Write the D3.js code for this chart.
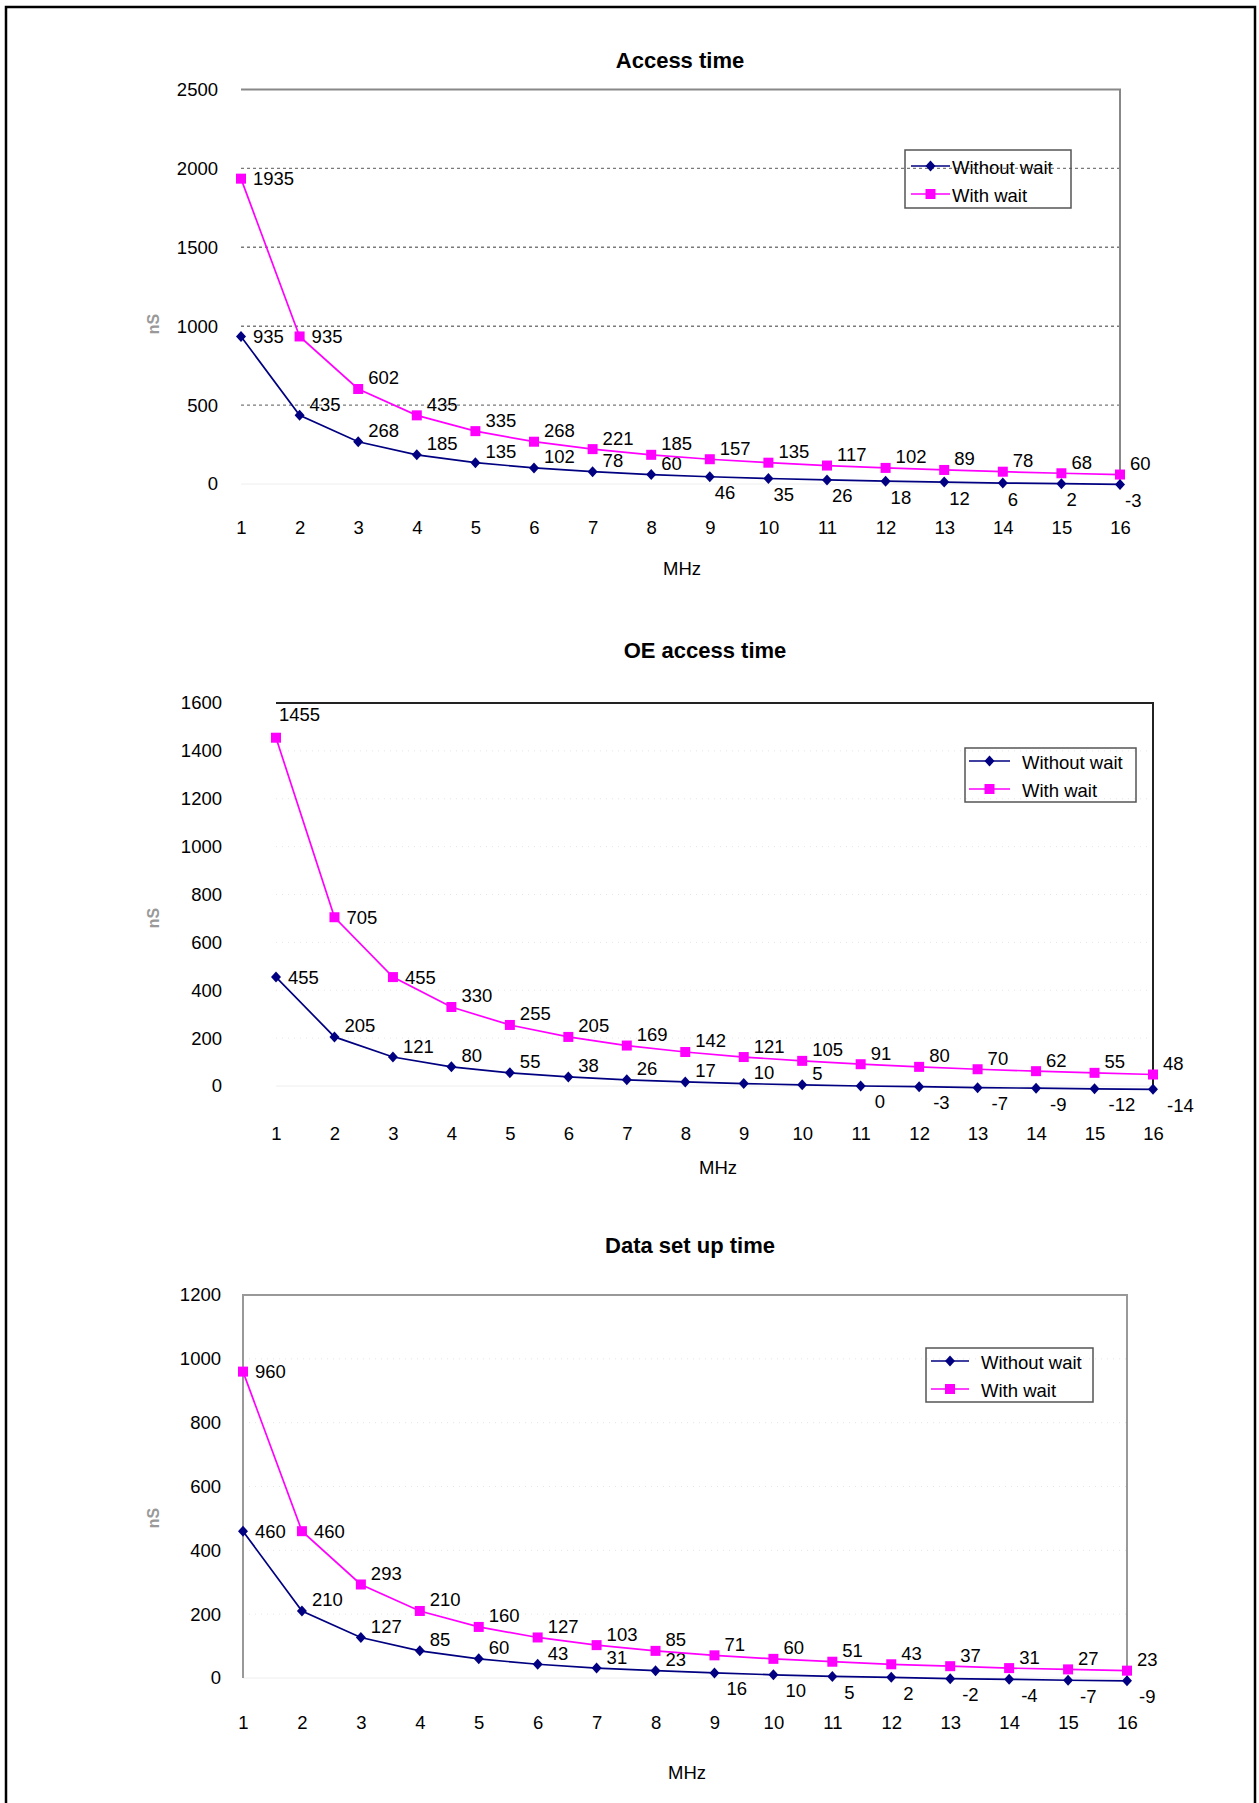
<!DOCTYPE html>
<html>
<head>
<meta charset="utf-8">
<script src="https://cdn.jsdelivr.net/npm/d3@7"></script>
<style>
  body { margin: 0; background: #fff; }
  svg text { font-family: "Liberation Sans", Arial, sans-serif; }
</style>
</head>
<body>
<div id="svganchor"></div>
<script>
/*
------------------------------
DATA
------------------------------
*/
const mhz = [1, 2, 3, 4, 5, 6, 7, 8, 9, 10, 11, 12, 13, 14, 15, 16];
const seriesNames = ["Without wait", "With wait"];

const accessWithout = [935, 435, 268, 185, 135, 102, 78, 60, 46, 35, 26, 18, 12, 6, 2, -3];
const accessWith = [1935, 935, 602, 435, 335, 268, 221, 185, 157, 135, 117, 102, 89, 78, 68, 60];
const accessTicks = [0, 500, 1000, 1500, 2000, 2500];

const oeWithout = [455, 205, 121, 80, 55, 38, 26, 17, 10, 5, 0, -3, -7, -9, -12, -14];
const oeWith = [1455, 705, 455, 330, 255, 205, 169, 142, 121, 105, 91, 80, 70, 62, 55, 48];
const oeTicks = [0, 200, 400, 600, 800, 1000, 1200, 1400, 1600];

const setupWithout = [460, 210, 127, 85, 60, 43, 31, 23, 16, 10, 5, 2, -2, -4, -7, -9];
const setupWith = [960, 460, 293, 210, 160, 127, 103, 85, 71, 60, 51, 43, 37, 31, 27, 23];
const setupTicks = [0, 200, 400, 600, 800, 1000, 1200];

/*
------------------------------
METHOD: size of the canvas and layout of the three charts
------------------------------
*/
const width = 1259;
const height = 1803;
const fontSize = 18.5;
const colors = ["#000080", "#ff00ff"];

const charts = [
  {
    title: "Access time", series: [accessWithout, accessWith], ticks: accessTicks,
    left: 241, right: 1120, top: 89.5, bottom: 484,
    titleX: 680, titleY: 60, tickRight: 218, xLabelY: 527, mhzX: 682, mhzY: 569, nsY: 324,
    legend: { x: 905, y: 150, w: 166, h: 58, line0: 911, line1: 950, text: 952, row0: 16 },
    grid: "dashed", frame: "#888", belowFrom: 8, belowDx: 5, raiseFirst: 0,
  },
  {
    title: "OE access time", series: [oeWithout, oeWith], ticks: oeTicks,
    left: 276, right: 1153, top: 703, bottom: 1086,
    titleX: 705, titleY: 650, tickRight: 222, xLabelY: 1133, mhzX: 718, mhzY: 1168, nsY: 918,
    legend: { x: 965, y: 748, w: 171, h: 54, line0: 969, line1: 1010, text: 1022, row0: 13 },
    grid: "faint", frame: "#222", belowFrom: 10, belowDx: 14, raiseFirst: 23,
  },
  {
    title: "Data set up time", series: [setupWithout, setupWith], ticks: setupTicks,
    left: 243, right: 1127, top: 1295, bottom: 1678,
    titleX: 690, titleY: 1245, tickRight: 221, xLabelY: 1722, mhzX: 687, mhzY: 1773, nsY: 1518,
    legend: { x: 926, y: 1348, w: 167, h: 54, line0: 931, line1: 969, text: 981, row0: 13 },
    grid: "faint", frame: "#999", belowFrom: 8, belowDx: 12, raiseFirst: 0, leftLine: true,
  },
];

const svg = d3
  .select("#svganchor")
  .append("svg")
  .attr("width", width)
  .attr("height", height);

// outer frame of the page
svg
  .append("rect")
  .attr("x", 6)
  .attr("y", 7)
  .attr("width", 1249)
  .attr("height", 1830)
  .attr("fill", "none")
  .attr("stroke", "#000")
  .attr("stroke-width", 2.5);

/*
------------------------------
METHOD: markers
------------------------------
*/
function drawMarker(g, k, cx, cy) {
  if (k === 0) {
    g.append("path")
      .attr("d", `M${cx},${cy - 5.5}L${cx + 5},${cy}L${cx},${cy + 5.5}L${cx - 5},${cy}Z`)
      .attr("fill", colors[0]);
  } else {
    g.append("rect")
      .attr("x", cx - 5)
      .attr("y", cy - 5)
      .attr("width", 10)
      .attr("height", 10)
      .attr("fill", colors[1]);
  }
}

/*
------------------------------
METHOD: draw one chart
------------------------------
*/
function drawChart(c) {
  const g = svg.append("g");

  const x = d3.scaleLinear().domain([1, 16]).range([c.left, c.right]);
  const y = d3
    .scaleLinear()
    .domain([0, d3.max(c.ticks)])
    .range([c.bottom, c.top]);

  // gridlines
  const inner = c.ticks.filter((t) => t > 0 && t < d3.max(c.ticks));
  g.selectAll(".grid")
    .data(inner)
    .enter()
    .append("line")
    .attr("x1", c.left)
    .attr("x2", c.right)
    .attr("y1", (d) => y(d))
    .attr("y2", (d) => y(d))
    .attr("stroke", c.grid === "dashed" ? "#7a7a7a" : "#e6e6e6")
    .attr("stroke-width", c.grid === "dashed" ? 1.4 : 1)
    .attr("stroke-dasharray", c.grid === "dashed" ? "3,3" : "1,5");

  // faint baseline
  g.append("line")
    .attr("x1", c.left).attr("x2", c.right)
    .attr("y1", y(0)).attr("y2", y(0))
    .attr("stroke", "#eeeeee");

  // plot frame: top and right (and left for the last chart)
  const frame = d3.path();
  if (c.leftLine) {
    frame.moveTo(c.left, c.bottom);
    frame.lineTo(c.left, c.top);
  } else {
    frame.moveTo(c.left, c.top);
  }
  frame.lineTo(c.right, c.top);
  frame.lineTo(c.right, c.bottom);
  g.append("path")
    .attr("d", frame.toString())
    .attr("fill", "none")
    .attr("stroke", c.frame)
    .attr("stroke-width", 2);

  // y axis
  const yAxis = g
    .append("g")
    .attr("transform", `translate(${c.left},0)`)
    .call(
      d3.axisLeft(y).tickValues(c.ticks).tickSize(0).tickPadding(c.left - c.tickRight)
        .tickFormat(d3.format("d"))
    );
  yAxis.select(".domain").remove();
  yAxis.selectAll("text")
    .attr("font-size", fontSize)
    .attr("font-family", '"Liberation Sans", Arial, sans-serif')
    .attr("fill", "#000");

  // x axis
  const xAxis = g
    .append("g")
    .attr("transform", `translate(0,${c.xLabelY - 6.6})`)
    .call(d3.axisBottom(x).tickValues(mhz).tickSize(0).tickPadding(0).tickFormat(d3.format("d")));
  xAxis.select(".domain").remove();
  xAxis.selectAll("text")
    .attr("font-size", fontSize)
    .attr("font-family", '"Liberation Sans", Arial, sans-serif')
    .attr("fill", "#000");

  // lines
  const line = d3
    .line()
    .x((d, i) => x(mhz[i]))
    .y((d) => y(d));

  c.series.forEach(function (vals, k) {
    g.append("path")
      .datum(vals)
      .attr("d", line)
      .attr("fill", "none")
      .attr("stroke", colors[k])
      .attr("stroke-width", 1.7);

    vals.forEach(function (v, i) {
      drawMarker(g, k, x(mhz[i]), y(v));
    });

    // data labels: right of a steep drop, otherwise above-right,
    // and below-right for the flat tail of the lower series
    vals.forEach(function (v, i) {
      const px = x(mhz[i]);
      const py = y(v);
      let dx = 10;
      let dy = -11;
      if (k === 0 && i >= c.belowFrom) {
        dx = c.belowDx;
        dy = 16;
      } else if (i < vals.length - 1 && y(vals[i + 1]) - py > 28) {
        dx = 12;
        dy = 0;
        if (i === 0 && k === 1 && c.raiseFirst) {
          dx = 3;
          dy = -c.raiseFirst;
        }
      }
      g.append("text")
        .attr("x", px + dx)
        .attr("y", py + dy)
        .attr("dy", "0.35em")
        .attr("font-size", fontSize)
        .attr("fill", "#000")
        .text(v);
    });
  });

  // title
  g.append("text")
    .attr("x", c.titleX)
    .attr("y", c.titleY)
    .attr("dy", "0.35em")
    .attr("text-anchor", "middle")
    .attr("font-size", 22)
    .attr("font-weight", "bold")
    .text(c.title);

  // x axis title
  g.append("text")
    .attr("x", c.mhzX)
    .attr("y", c.mhzY)
    .attr("dy", "0.35em")
    .attr("text-anchor", "middle")
    .attr("font-size", fontSize)
    .text("MHz");

  // y axis title
  g.append("text")
    .attr("transform", `translate(153,${c.nsY}) rotate(-90)`)
    .attr("dy", "0.35em")
    .attr("text-anchor", "middle")
    .attr("font-size", 16)
    .attr("font-weight", "bold")
    .attr("fill", "#999")
    .text("nS");

  // legend
  const L = c.legend;
  g.append("rect")
    .attr("x", L.x)
    .attr("y", L.y)
    .attr("width", L.w)
    .attr("height", L.h)
    .attr("fill", "none")
    .attr("stroke", "#555")
    .attr("stroke-width", 1.5);

  seriesNames.forEach(function (name, k) {
    const ly = L.y + L.row0 + k * 28;
    g.append("line")
      .attr("x1", L.line0)
      .attr("x2", L.line1)
      .attr("y1", ly)
      .attr("y2", ly)
      .attr("stroke", colors[k])
      .attr("stroke-width", 1.7);
    drawMarker(g, k, (L.line0 + L.line1) / 2, ly);
    g.append("text")
      .attr("x", L.text)
      .attr("y", ly + 2)
      .attr("dy", "0.35em")
      .attr("font-size", fontSize)
      .attr("fill", "#000")
      .text(name);
  });
}

charts.forEach(drawChart);
</script>
</body>
</html>
